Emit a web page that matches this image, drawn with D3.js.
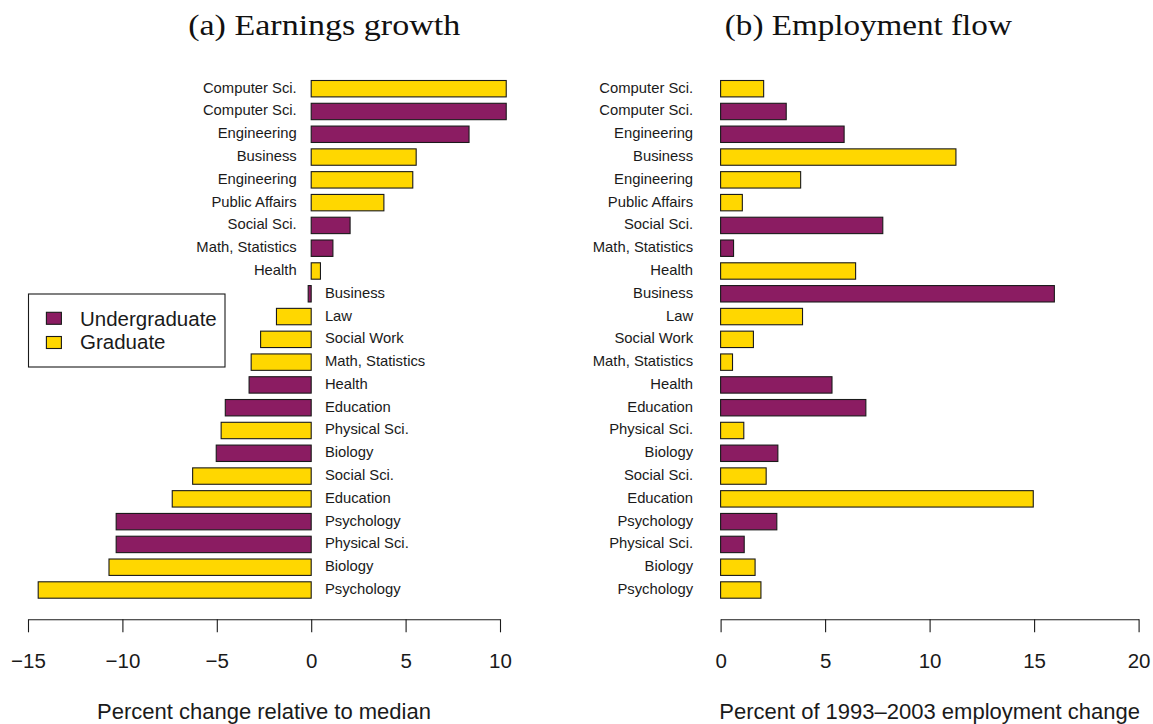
<!DOCTYPE html>
<html>
<head>
<meta charset="utf-8">
<script src="https://cdn.jsdelivr.net/npm/d3@7"></script>
<style>
  html, body { margin: 0; padding: 0; background: #fff; }
  svg { display: block; }
</style>
</head>
<body>
<script>
// Fields of study, top to bottom, with degree level and the two measures
const fields = [
  "Computer Sci.", "Computer Sci.", "Engineering", "Business", "Engineering",
  "Public Affairs", "Social Sci.", "Math, Statistics", "Health", "Business",
  "Law", "Social Work", "Math, Statistics", "Health", "Education",
  "Physical Sci.", "Biology", "Social Sci.", "Education", "Psychology",
  "Physical Sci.", "Biology", "Psychology"
];
const levels = [
  "Graduate", "Undergraduate", "Undergraduate", "Graduate", "Graduate",
  "Graduate", "Undergraduate", "Undergraduate", "Graduate", "Undergraduate",
  "Graduate", "Graduate", "Graduate", "Undergraduate", "Undergraduate",
  "Graduate", "Undergraduate", "Graduate", "Graduate", "Undergraduate",
  "Undergraduate", "Graduate", "Graduate"
];
// Percent change in earnings relative to the median
const earningsGrowth = [
  10.33, 10.33, 8.36, 5.56, 5.38,
  3.85, 2.06, 1.15, 0.49, -0.16,
  -1.84, -2.68, -3.18, -3.29, -4.55,
  -4.77, -5.03, -6.28, -7.36, -10.33,
  -10.33, -10.71, -14.46
];
// Percent of 1993-2003 employment change
const employmentFlow = [
  2.06, 3.14, 5.91, 11.26, 3.83,
  1.04, 7.76, 0.62, 6.46, 15.97,
  3.92, 1.57, 0.57, 5.33, 6.95,
  1.11, 2.74, 2.18, 14.96, 2.69,
  1.13, 1.65, 1.93
];
const earningsTicks = [-15, -10, -5, 0, 5, 10];
const flowTicks = [0, 5, 10, 15, 20];
const levelNames = ["Undergraduate", "Graduate"];
const levelColors = ["#8b1c62", "#ffd700"];

const W = 1153, H = 724;
const sans = "'Liberation Sans', Arial, Helvetica, sans-serif";
const serif = "'Liberation Serif', 'Times New Roman', serif";

const svg = d3.select("body").append("svg")
  .attr("width", W).attr("height", H)
  .attr("viewBox", `0 0 ${W} ${H}`);

const color = d3.scaleOrdinal().domain(levelNames).range(levelColors);
const rows = d3.range(fields.length);
const y = d3.scalePoint().domain(rows).range([88.7, 590]);
const barH = 16.4;
const axisY = 619.3;

const xL = d3.scaleLinear().domain([-15, 10]).range([28, 500]);
const xR = d3.scaleLinear().domain([0, 20]).range([720.6, 1138.6]);

function panel(x, values, ticks, labelSide, title, titleX, titleLen, axisLabel) {
  const g = svg.append("g");

  // bars
  g.selectAll("rect.bar").data(rows).join("rect")
    .attr("class", "bar")
    .attr("x", i => x(Math.min(0, values[i])))
    .attr("width", i => Math.abs(x(values[i]) - x(0)))
    .attr("y", i => y(i) - barH / 2)
    .attr("height", barH)
    .attr("fill", i => color(levels[i]))
    .attr("stroke", "#1a1a1a")
    .attr("stroke-width", 1.1);

  // field labels
  g.selectAll("text.lab").data(rows).join("text")
    .attr("class", "lab")
    .attr("x", i => labelSide(i) === "left" ? x(0) - (labelSide.gapL) : x(0) + labelSide.gapR)
    .attr("y", i => y(i) + 4)
    .attr("text-anchor", i => labelSide(i) === "left" ? "end" : "start")
    .attr("font-family", sans)
    .attr("font-size", 14.8)
    .attr("fill", "#1a1a1a")
    .text(i => fields[i]);

  // axis
  const ax = g.append("g")
    .attr("transform", `translate(0,${axisY})`)
    .call(d3.axisBottom(x).tickValues(ticks).tickSize(13).tickSizeOuter(0).tickPadding(21.5));
  ax.select(".domain").attr("stroke", "#1a1a1a").attr("stroke-width", 1.1);
  ax.selectAll(".tick line").attr("stroke", "#1a1a1a").attr("stroke-width", 1.1);
  ax.selectAll(".tick text")
    .attr("font-family", sans)
    .attr("font-size", 20.5)
    .attr("fill", "#1a1a1a");

  // axis title
  const [r0, r1] = x.range();
  g.append("text")
    .attr("x", (r0 + r1) / 2)
    .attr("y", 718.5)
    .attr("text-anchor", "middle")
    .attr("font-family", sans)
    .attr("font-size", 22)
    .attr("fill", "#1a1a1a")
    .text(axisLabel);

  // panel title
  g.append("text")
    .attr("x", titleX)
    .attr("y", 35)
    .attr("text-anchor", "middle")
    .attr("font-family", serif)
    .attr("font-size", 30)
    .attr("textLength", titleLen)
    .attr("lengthAdjust", "spacingAndGlyphs")
    .attr("fill", "#111")
    .text(title);
}

const sideL = i => earningsGrowth[i] >= 0 ? "left" : "right";
sideL.gapL = 14.5; sideL.gapR = 13.7;
const sideR = () => "left";
sideR.gapL = 27.5; sideR.gapR = 0;

panel(xL, earningsGrowth, earningsTicks, sideL, "(a) Earnings growth", 324.2, 272,
      "Percent change relative to median");
panel(xR, employmentFlow, flowTicks, sideR, "(b) Employment flow", 868.3, 287,
      "Percent of 1993\u20132003 employment change");

// legend
const leg = svg.append("g");
leg.append("rect")
  .attr("x", 28.5).attr("y", 294)
  .attr("width", 196.5).attr("height", 73)
  .attr("fill", "#fff")
  .attr("stroke", "#1a1a1a").attr("stroke-width", 1.1);
levelNames.forEach((name, k) => {
  leg.append("rect")
    .attr("x", 46.4).attr("y", 312.3 + k * 24.2)
    .attr("width", 15).attr("height", 12)
    .attr("fill", color(name))
    .attr("stroke", "#1a1a1a").attr("stroke-width", 1.1);
  leg.append("text")
    .attr("x", 80).attr("y", 325.5 + k * 23.8)
    .attr("font-family", sans)
    .attr("font-size", 20.5)
    .attr("fill", "#1a1a1a")
    .text(name);
});
</script>
</body>
</html>
